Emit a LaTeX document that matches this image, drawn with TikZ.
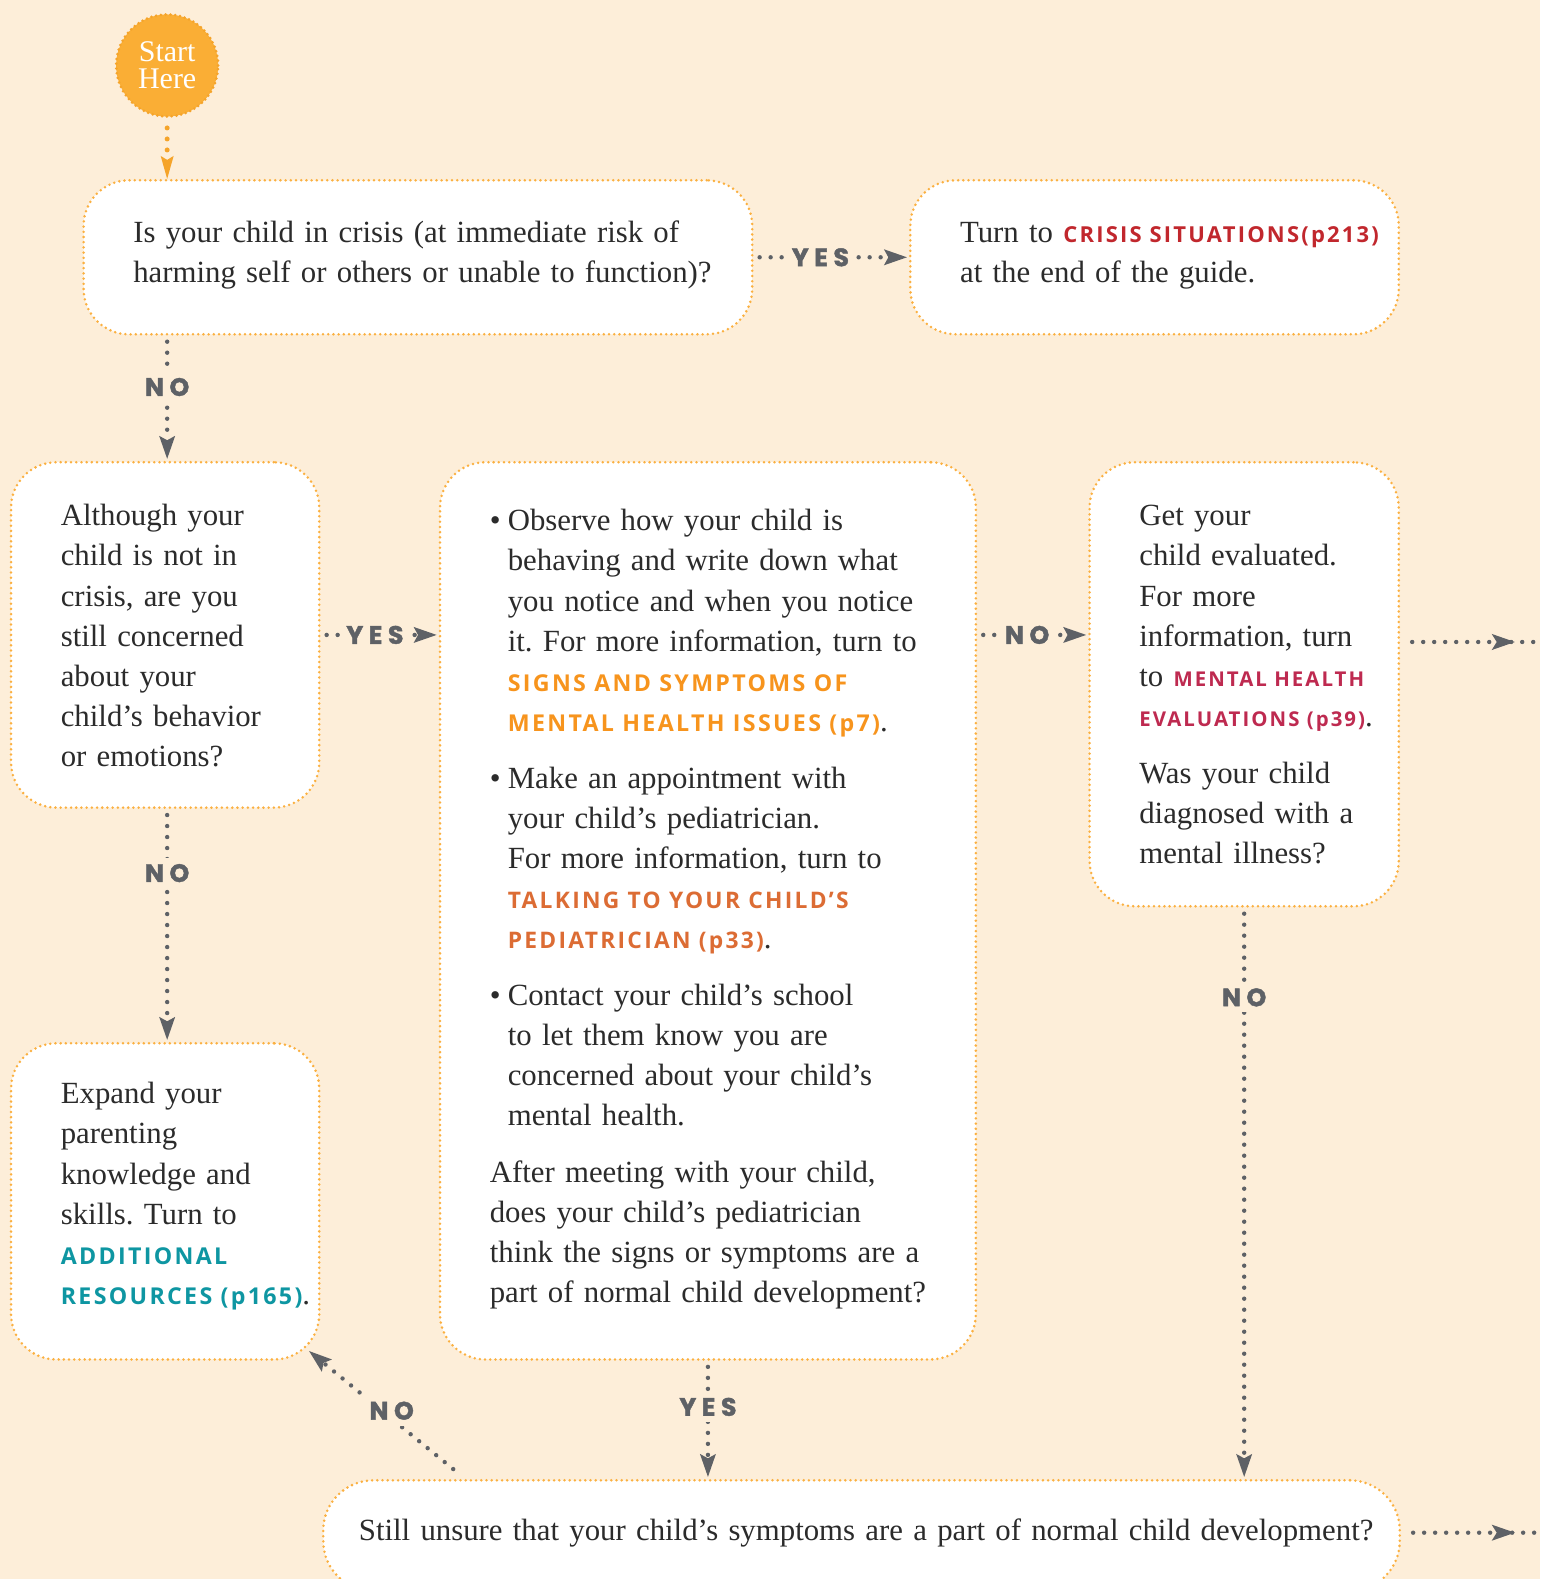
\documentclass[tikz,border=0pt]{standalone}
\usepackage{fontspec}
\setmainfont{Liberation Serif}
\newfontfamily\linkfont[LetterSpace=10]{Open Sans}
\newfontfamily\labfont[LetterSpace=22, BoldFeatures={FakeBold=1.6}]{Poppins}
\usetikzlibrary{arrows.meta,calc}
\definecolor{bg}{HTML}{FDEED9}
\definecolor{boxline}{HTML}{FBB040}
\definecolor{startfill}{HTML}{FAAE35}
\definecolor{startline}{HTML}{F5A42A}
\definecolor{grayc}{HTML}{5E6166}
\definecolor{textc}{HTML}{2B2B2B}
\definecolor{crisisc}{HTML}{C1272D}
\definecolor{signsc}{HTML}{F7941D}
\definecolor{pedic}{HTML}{DC6C34}
\definecolor{mhec}{HTML}{BE2A50}
\definecolor{tealc}{HTML}{0E96A2}
\newcommand\bodyfont{\fontsize{15.4}{20.1}\selectfont\frenchspacing\spaceskip=3.4pt plus 1pt minus 0.5pt\relax}
\newcommand\lk[3][11.6]{{\color{#2}\linkfont\bfseries\fontsize{#1}{20.1}\selectfont\spaceskip=0pt\relax #3}}
\newcommand\bul{\hangindent=9pt\hangafter=1\makebox[9pt][l]{•}}
\begin{document}
\begin{tikzpicture}[x=0.5035pt,y=-0.5035pt,
  box/.style={draw=boxline, fill=white, line width=1.4pt, dash pattern=on 0pt off 2.6pt, line cap=round, rounded corners=22.7pt, inner sep=0pt},
  txt/.style={anchor=base west, inner sep=0pt, text width=300pt, align=left, font=\bodyfont, text=textc},
  garrow/.style={draw=grayc, line width=2.2pt, dash pattern=on 0pt off 5.5pt, line cap=round, shorten <=3pt, shorten >=1pt, -{Stealth[length=11.5pt,width=8pt,inset=2.2pt,line width=0pt]}},
  gline/.style={draw=grayc, line width=2.2pt, dash pattern=on 0pt off 5.5pt, line cap=round},
  oarrow/.style={draw=startline, line width=2.5pt, dash pattern=on 0pt off 5.5pt, line cap=round, shorten <=5pt, -{Stealth[length=11.5pt,width=6.5pt,inset=2pt,line width=0pt]}},
  lab/.style={font=\labfont\bfseries\fontsize{12.6}{12.6}\selectfont, text=grayc, fill=bg, inner sep=3pt},
]
\useasboundingbox (0,0) rectangle (1529.3,1568);
\fill[bg] (0,0) rectangle (1529.3,1568);
\clip (0,0) rectangle (1529.3,1568);

% start
\node[circle, fill=startfill, draw=startline, line width=1.5pt, dash pattern=on 0pt off 2.4pt, line cap=round, minimum size=51pt, inner sep=0pt, text=white, align=center, font=\fontsize{15}{13.6}\selectfont] (start) at (166,65) {Start\\Here};

% boxes
\node[box, minimum width=334.3pt, minimum height=77pt] (b1) at (415,255.5) {};
\node[box, minimum width=244.2pt, minimum height=77pt] (b2) at (1146.5,255.5) {};
\node[box, minimum width=154.1pt, minimum height=172.7pt] (b3) at (164,630.5) {};
\node[box, minimum width=267.9pt, minimum height=448.6pt] (b4) at (703,904.5) {};
\node[box, minimum width=154.6pt, minimum height=222pt] (b5) at (1235.5,679.5) {};
\node[box, minimum width=154.1pt, minimum height=158.1pt] (b6) at (164,1193) {};
\node[box, minimum width=538.2pt, minimum height=55.4pt, rounded corners=25pt] (b7) at (855.5,1525) {};

% texts
\node[txt] (t1) at (132,241) {Is your child in crisis (at immediate risk of\newline harming self or others or unable to function)?};
\node[txt] (t2) at (953,241) {Turn to \lk[11]{crisisc}{CRISIS SITUATIONS(p213)}\newline at the end of the guide.};
\node[txt] (t3) at (60,522) {Although your\newline child is not in\newline crisis, are you\newline still concerned\newline about your\newline child’s behavior\newline or emotions?};
\node[txt] (t4) at (486,527) {\setlength{\parskip}{8.1pt}%
\bul Observe how your child is\newline behaving and write down what\newline you notice and when you notice\newline it. For more information, turn to\newline \lk{signsc}{SIGNS AND SYMPTOMS OF}\newline \lk{signsc}{MENTAL HEALTH ISSUES (p7)}.\par
\bul Make an appointment with\newline your child’s pediatrician.\newline For more information, turn to\newline \lk[11.4]{pedic}{TALKING TO YOUR CHILD’S}\newline \lk[11.4]{pedic}{PEDIATRICIAN (p33)}.\par
\bul Contact your child’s school\newline to let them know you are\newline concerned about your child’s\newline mental health.\par
After meeting with your child,\newline does your child’s pediatrician\newline think the signs or symptoms are a\newline part of normal child development?};
\node[txt] (t5) at (1131,522) {\setlength{\parskip}{8.1pt}%
Get your\newline child evaluated.\newline For more\newline information, turn\newline to \lk[10.2]{mhec}{MENTAL HEALTH}\newline \lk[10.2]{mhec}{EVALUATIONS (p39)}.\par
Was your child\newline diagnosed with a\newline mental illness?};
\node[txt] (t6) at (60,1096) {Expand your\newline parenting\newline knowledge and\newline skills. Turn to\newline \lk{tealc}{ADDITIONAL}\newline \lk{tealc}{RESOURCES (p165)}.};
\node[txt, text width=540pt] (t7) at (356,1530) {Still unsure that your child’s symptoms are a part of normal child development?};

% connectors
\draw[oarrow] (start.south) -- (start |- b1.north);
\draw[garrow] (b1.east) -- node[lab, pos=0.43] {YES} (b2.west);
\draw[garrow] (start |- b1.south) -- node[lab, pos=0.41] {NO} (start |- b3.north);
\draw[garrow] (b3.east) -- node[lab, pos=0.46] {YES} (b4.west |- b3.east);
\draw[garrow] (b4.east |- b3.east) -- node[lab, pos=0.45] {NO} (b5.west |- b3.east);
\draw[garrow] (start |- b3.south) -- node[lab, pos=0.275] {NO} (start |- b6.north);
\draw[garrow] (b4.south) -- node[lab, pos=0.39] {YES} (b4.south |- b7.north);
\draw[garrow] (b5.south) -- node[lab, pos=0.157] {NO} (b5.south |- b7.north);
\draw[garrow] ($(b7.north west)+(135,-6)$) -- node[lab, pos=0.44, yshift=4pt] {NO} ($(b6.south east)+(-13,-11)$);

% exits
\coordinate (exitA) at (1529.3,637.5);
\coordinate (exitB) at (1529.3,1522);
\draw[gline, shorten <=6pt] (b5.east |- exitA) -- (exitA);
\draw[gline, shorten <=6pt] (b7.east |- exitB) -- (exitB);
\fill[grayc] ($(exitA)+(-48,-8)$) -- ($(exitA)+(-25,0)$) -- ($(exitA)+(-48,8)$) -- ($(exitA)+(-43,0)$) -- cycle;
\fill[grayc] ($(exitB)+(-48,-8)$) -- ($(exitB)+(-25,0)$) -- ($(exitB)+(-48,8)$) -- ($(exitB)+(-43,0)$) -- cycle;
\end{tikzpicture}
\end{document}
